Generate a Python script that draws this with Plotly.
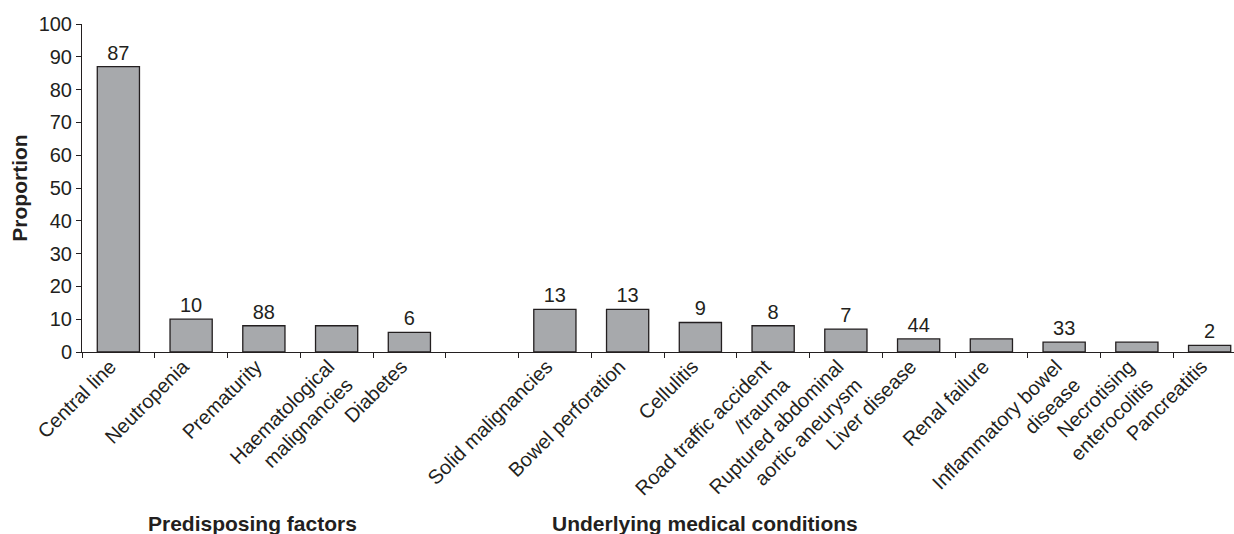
import plotly.graph_objects as go

categories = ["Central line", "Neutropenia", "Prematurity", "Haematological<br>malignancies", "Diabetes", " ",
              "Solid malignancies", "Bowel perforation", "Cellulitis", "Road traffic accident<br>/trauma",
              "Ruptured abdominal<br>aortic aneurysm", "Liver disease", "Renal failure",
              "Inflammatory bowel<br>disease", "Necrotising<br>enterocolitis", "Pancreatitis"]
values = [87, 10, 8, 8, 6, None, 13, 13, 9, 8, 7, 4, 4, 3, 3, 2]
bar_labels = ["87", "10", "88", "", "6", "", "13", "13", "9", "8", "7", "44", "", "33", "", "2"]
y_ticks = [0, 10, 20, 30, 40, 50, 60, 70, 80, 90, 100]
group_titles = ["Predisposing factors", "Underlying medical conditions"]

INK = "#231f20"
FONT = "Liberation Sans, Arial, sans-serif"

L, R, T, B = 82, 0, 24, 182
W, H = 1234, 534
pw = W - L - R
ph = H - T - B

fig = go.Figure()
fig.add_trace(go.Bar(
    x=categories, y=values, text=bar_labels, textposition="outside",
    textfont=dict(size=20, color=INK, family=FONT), constraintext="none", cliponaxis=False,
    marker=dict(color="#a7a9ac", line=dict(color=INK, width=1.3)),
    width=0.58, showlegend=False, hoverinfo="skip",
))

fig.update_layout(
    width=W, height=H,
    margin=dict(l=L, r=R, t=T, b=B),
    paper_bgcolor="white", plot_bgcolor="white",
    font=dict(family=FONT, color=INK, size=20),
    xaxis=dict(
        type="category", categoryorder="array", categoryarray=categories,
        range=[-0.5, 15.335], tickson="boundaries", ticks="outside", ticklen=5,
        tickcolor=INK, tickwidth=1, tickangle=-45, showline=True, linecolor=INK, linewidth=1,
        showgrid=False, tickfont=dict(size=20, color=INK, family=FONT), automargin=False,
        ticklabelshift=-8, ticklabelstandoff=-6,
    ),
    yaxis=dict(
        range=[0, 100], tickvals=y_ticks, ticks="outside", ticklen=5, tickcolor=INK,
        showline=True, linecolor=INK, linewidth=1, showgrid=False, zeroline=False,
        tickfont=dict(size=20, color=INK, family=FONT), automargin=False,
        title=dict(text="<b>Proportion</b>", font=dict(size=21, color=INK, family=FONT), standoff=5),
    ),
)

title_px = [(252, 523), (705, 523)]
for txt, (px, py) in zip(group_titles, title_px):
    fig.add_annotation(text="<b>" + txt + "</b>", x=(px - L) / pw, y=(H - B - py) / ph,
                       xref="paper", yref="paper", xanchor="center", yanchor="middle",
                       showarrow=False, font=dict(size=21, color=INK, family=FONT))

fig.write_html("out.html", config={"displayModeBar": False},
               post_script="document.body.style.margin='0';")
